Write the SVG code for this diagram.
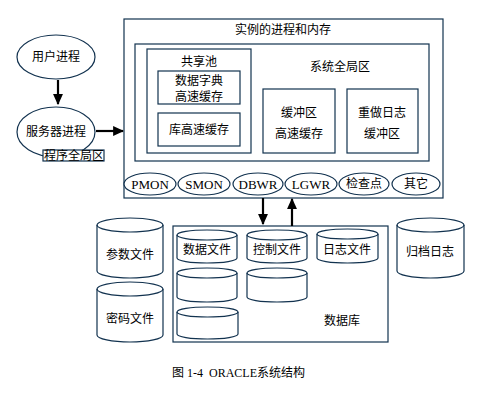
<svg xmlns="http://www.w3.org/2000/svg" width="480" height="400" viewBox="0 0 480 400">
<style>
.s{fill:#fff;stroke:#12324f;stroke-width:1.2}
.n{fill:none;stroke:#12324f;stroke-width:1.2}
.t{font-family:"Noto Sans CJK SC","Liberation Sans",sans-serif;font-size:12px;fill:#000;text-anchor:middle}
.r{font-family:"Liberation Serif","DejaVu Serif",serif;font-size:13px;fill:#000;text-anchor:middle}
.a{stroke:#000;stroke-width:2.2;fill:none}
</style>
<defs>
<marker id="ah" viewBox="0 0 10 10" refX="9" refY="5" markerWidth="5" markerHeight="4.5" orient="auto" markerUnits="strokeWidth" preserveAspectRatio="none">
<path d="M0,0 L10,5 L0,10 z" fill="#000"/>
</marker>
</defs>
<rect width="480" height="400" fill="#fff"/>

<g id="instance">
<rect class="s" x="124" y="19" width="319" height="179"/>
<text class="t" x="283" y="34">实例的进程和内存</text>
</g>
<g id="sga">
<rect class="s" x="135" y="44" width="294" height="117"/>
<text class="t" x="340" y="71">系统全局区</text>
</g>
<g id="shared-pool">
<rect class="s" x="147" y="49" width="104" height="104"/>
<text class="t" x="199" y="66">共享池</text>
</g>
<g id="dict-cache">
<rect class="s" x="158" y="71" width="82" height="33"/>
<text class="t" x="199" y="85">数据字典</text>
<text class="t" x="199" y="101">高速缓存</text>
</g>
<g id="lib-cache">
<rect class="s" x="158" y="113" width="82" height="33"/>
<text class="t" x="199" y="134">库高速缓存</text>
</g>
<g id="buffer-cache">
<rect class="s" x="263" y="89" width="72" height="64"/>
<text class="t" x="299" y="117">缓冲区</text>
<text class="t" x="299" y="138">高速缓存</text>
</g>
<g id="redo-buffer">
<rect class="s" x="347" y="89" width="71" height="64"/>
<text class="t" x="382" y="117">重做日志</text>
<text class="t" x="382" y="138">缓冲区</text>
</g>

<g id="pmon"><ellipse class="s" cx="150" cy="184" rx="26" ry="11"/><text class="r" x="150" y="189">PMON</text></g>
<g id="smon"><ellipse class="s" cx="204" cy="184" rx="26" ry="11"/><text class="r" x="204" y="189">SMON</text></g>
<g id="dbwr"><ellipse class="s" cx="258" cy="184" rx="25" ry="11"/><text class="r" x="258" y="189">DBWR</text></g>
<g id="lgwr"><ellipse class="s" cx="311" cy="184" rx="26" ry="11"/><text class="r" x="311" y="189">LGWR</text></g>
<g id="ckpt"><ellipse class="s" cx="364" cy="184" rx="25" ry="11"/><text class="t" x="364" y="188">检查点</text></g>
<g id="other"><ellipse class="s" cx="416" cy="184" rx="24" ry="11"/><text class="t" x="416" y="188">其它</text></g>

<g id="user-process">
<ellipse class="s" cx="56" cy="57" rx="39" ry="22"/>
<text class="t" x="56" y="61">用户进程</text>
</g>
<g id="server-process">
<ellipse class="s" cx="56" cy="132" rx="39" ry="25"/>
<text class="t" x="56" y="136">服务器进程</text>
</g>
<g id="pga">
<rect class="s" x="43" y="150" width="61" height="11"/>
<text class="t" x="74" y="160">程序全局区</text>
</g>

<g id="database">
<rect class="s" x="173" y="226" width="215" height="116"/>
<text class="t" x="342" y="325">数据库</text>
</g>

<g id="param-file">
<path class="s" d="M97,225 A33,7 0 0 1 163,225 V271 A33,7 0 0 1 97,271 Z"/>
<path class="n" d="M97,225 A33,7 0 0 0 163,225"/>
<text class="t" x="130" y="259">参数文件</text>
</g>
<g id="pwd-file">
<path class="s" d="M97,289 A33,7 0 0 1 163,289 V335 A33,7 0 0 1 97,335 Z"/>
<path class="n" d="M97,289 A33,7 0 0 0 163,289"/>
<text class="t" x="130" y="323">密码文件</text>
</g>
<g id="archive-log">
<path class="s" d="M397,225 A33.5,7 0 0 1 464,225 V271 A33.5,7 0 0 1 397,271 Z"/>
<path class="n" d="M397,225 A33.5,7 0 0 0 464,225"/>
<text class="t" x="430" y="256">归档日志</text>
</g>

<g id="data-file">
<path class="s" d="M177,235 A30,5 0 0 1 237,235 V258 A30,5 0 0 1 177,258 Z"/>
<path class="n" d="M177,235 A30,5 0 0 0 237,235"/>
<text class="t" x="207" y="254">数据文件</text>
</g>
<g id="data-file-2">
<path class="s" d="M177,273 A30,5 0 0 1 237,273 V297 A30,5 0 0 1 177,297 Z"/>
<path class="n" d="M177,273 A30,5 0 0 0 237,273"/>
</g>
<g id="data-file-3">
<path class="s" d="M177,312 A30.5,5 0 0 1 238,312 V334 A30.5,5 0 0 1 177,334 Z"/>
<path class="n" d="M177,312 A30.5,5 0 0 0 238,312"/>
</g>
<g id="control-file">
<path class="s" d="M247,235 A30,5 0 0 1 307,235 V258 A30,5 0 0 1 247,258 Z"/>
<path class="n" d="M247,235 A30,5 0 0 0 307,235"/>
<text class="t" x="277" y="254">控制文件</text>
</g>
<g id="control-file-2">
<path class="s" d="M247,273 A30,5 0 0 1 307,273 V297 A30,5 0 0 1 247,297 Z"/>
<path class="n" d="M247,273 A30,5 0 0 0 307,273"/>
</g>
<g id="log-file">
<path class="s" d="M317,234 A30.5,5 0 0 1 378,234 V258 A30.5,5 0 0 1 317,258 Z"/>
<path class="n" d="M317,234 A30.5,5 0 0 0 378,234"/>
<text class="t" x="347" y="254">日志文件</text>
</g>

<g id="connectors">
<line class="a" x1="58" y1="80" x2="58" y2="104" marker-end="url(#ah)"/>
<line class="a" x1="96" y1="131" x2="123" y2="131" marker-end="url(#ah)"/>
<line class="a" x1="263" y1="198" x2="263" y2="224" marker-end="url(#ah)"/>
<line class="a" x1="292" y1="226" x2="292" y2="199" marker-end="url(#ah)"/>
</g>

<text x="172" y="377" font-family="'Liberation Serif','Noto Sans CJK SC',serif" font-size="12" fill="#000" xml:space="preserve">图 1-4  ORACLE系统结构</text>
</svg>
